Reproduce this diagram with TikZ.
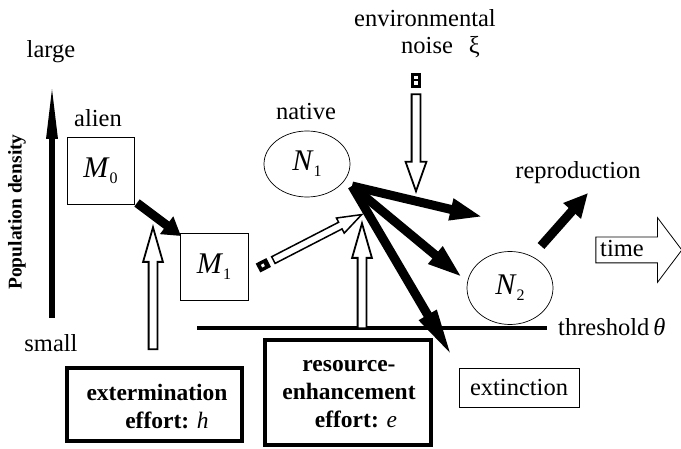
\documentclass[tikz,border=0pt]{standalone}
\usepackage{fontspec}
\setmainfont{Liberation Serif}
\usetikzlibrary{arrows.meta,shapes.geometric,shapes.arrows,calc}
\begin{document}
\begin{tikzpicture}[x=1pt,y=-1pt,
  txt/.style={font=\fontsize{24.5}{28}\selectfont, inner sep=0pt},
  btxt/.style={font=\fontsize{23.5}{28}\selectfont\bfseries, inner sep=0pt, align=center},
  sqbox/.style={draw, line width=0.8pt, minimum width=67pt, minimum height=67pt, inner sep=0pt, font=\fontsize{30}{30}\selectfont},
  oval/.style={ellipse, draw, line width=0.7pt, inner sep=0pt, font=\fontsize{30}{30}\selectfont},
  effbox/.style={draw, line width=4pt, inner sep=0pt},
  blackarr/.style n args={2}{draw, line width=9pt, -{Triangle[length=#1,width=#2]}},
  hollowarr/.style n args={2}{single arrow, draw, fill=white, line width=1.8pt, inner sep=0pt,
     minimum width=0pt, single arrow head extend=#1, single arrow tip angle=#2, single arrow head indent=0pt},
]
\useasboundingbox (0,0) rectangle (681,449);

% ---- vertical axis ----
\node[txt] (large) at (51,52) {large};
\node[txt] (small) at (51,343) {small};
\node[rotate=90, font=\fontsize{19.5}{22}\selectfont\bfseries, inner sep=0pt] (ylab) at (17,212) {Population density};
\coordinate (vbot) at (52,318);
\coordinate (vtop) at (52,77);
\draw[line width=6pt, -{Triangle[length=62pt,width=10pt]}] (vbot) -- (vtop);

% ---- nodes ----
\node[txt] (alienlbl) at (98,118) {alien};
\node[sqbox] (M0) at (100.5,170.5) {\textit{M}{\fontsize{16}{16}\selectfont\raisebox{-6pt}{0}}};
\node[sqbox, minimum width=68pt] (M1) at (214,266.5) {\textit{M}{\fontsize{16}{16}\selectfont\raisebox{-6pt}{1}}};
\node[txt] (nativelbl) at (306,112) {native};
\node[oval, minimum width=86pt, minimum height=66pt] (N1) at (307,164) {\textit{N}{\fontsize{16}{16}\selectfont\raisebox{-6pt}{1}}};
\node[oval, minimum width=86pt, minimum height=73pt] (N2) at (510,288) {\textit{N}{\fontsize{16}{16}\selectfont\raisebox{-6pt}{2}}};
\node[txt] (envlbl) at (425,18) {environmental};
\node[txt, anchor=west] (noiselbl) at (401,47) {noise\hspace{16pt}ξ};
\node[txt] (reprolbl) at (578,173) {reproduction};
\node[draw, line width=0.8pt, minimum width=120pt, minimum height=39pt, inner sep=0pt, txt] (ext) at (519,387.5) {extinction};

% ---- threshold ----
\coordinate (th0) at (197,328);
\coordinate (th1) at (547,328);
\draw[line width=4pt] (th0) -- (th1);
\node[txt, anchor=west] (thlbl) at (558,327) {threshold\,\textit{θ}};

% ---- effort boxes ----
\node[effbox, minimum width=175pt, minimum height=73pt] (exbox) at (154.5,404.5) {};
\node[btxt] (extxt) at (157,407) {extermination\\\hspace*{20pt}effort: \textnormal{\textit{h}}};
\node[effbox, minimum width=166pt, minimum height=105pt] (resbox) at (348,392.5) {};
\node[btxt] (restxt) at (349,394) {resource-\\enhancement\\\hspace*{14pt}effort: \textnormal{\textit{e}}};

% ---- black arrows ----
\coordinate (m0out) at (137,203);
\coordinate (m1in) at (181,236);
\draw[blackarr={18pt}{21pt}] (m0out) -- (m1in);

\coordinate (fan) at (352,186);
\coordinate (t1) at (483,217);
\coordinate (t2) at (463,278);
\coordinate (t3) at (453,358);
\draw[blackarr={33pt}{20pt}] (fan) -- (t1);
\draw[blackarr={36pt}{20pt}] (fan) -- (t2);
\draw[blackarr={50pt}{18pt}] (fan) -- (t3);

\coordinate (r0) at (541,246);
\coordinate (r1) at (588,193);
\draw[blackarr={24pt}{22pt}] (r0) -- (r1);

% ---- hollow arrows ----
\coordinate (e0) at (153,357); \coordinate (e1) at (153,235);
\path let \p1=($(e1)-(e0)$), \n1={atan2(\y1,\x1)}, \n2={veclen(\x1,\y1)} in
  node[hollowarr={5.5pt}{32}, minimum height=\n2, rotate=\n1] (exarr) at ($(e0)!0.5!(e1)$) {\rule{0pt}{7pt}};

\coordinate (s0) at (362,336); \coordinate (s1) at (362,231);
\path let \p1=($(s1)-(s0)$), \n1={atan2(\y1,\x1)}, \n2={veclen(\x1,\y1)} in
  node[hollowarr={5.5pt}{32}, minimum height=\n2, rotate=\n1] (resarr) at ($(s0)!0.5!(s1)$) {\rule{0pt}{7pt}};

% noise arrow with striped tail
\coordinate (nz0) at (416,73); \coordinate (nzb) at (416,88); \coordinate (nz1) at (416,185);
\draw[line width=10pt] (nz0) -- (nzb);
\draw[white, line width=4pt] ($(nz0)+(0,3)$) -- ($(nz0)+(0,6.5)$);
\draw[white, line width=4pt] ($(nz0)+(0,8.5)$) -- ($(nz0)+(0,12)$);
\path let \p1=($(nz1)-(nzb)$), \n1={atan2(\y1,\x1)}, \n2={veclen(\x1,\y1)} in
  node[hollowarr={6pt}{39}, minimum height=\n2, rotate=\n1] (noisearr) at ($(nzb)!0.5!(nz1)$) {\rule{0pt}{7pt}};

% M1 -> N1 arrow with striped tail
\coordinate (mn0) at (258,268); \coordinate (mn1) at (357,217);
\coordinate (mnb) at ($(mn0)!12pt!(mn1)$);
\draw[line width=10pt] (mn0) -- (mnb);
\draw[white, line width=3pt] ($(mn0)!4pt!(mn1)$) -- ($(mn0)!7pt!(mn1)$);
\path let \p1=($(mn1)-(mnb)$), \n1={atan2(\y1,\x1)}, \n2={veclen(\x1,\y1)} in
  node[hollowarr={4.75pt}{39}, line width=1.5pt, minimum height=\n2, rotate=\n1] (mnarr) at ($(mnb)!0.5!(mn1)$) {\rule{0pt}{6pt}};

% ---- time arrow ----
\node[single arrow, draw, line width=0.8pt, inner sep=0pt, minimum width=0pt, minimum height=86pt,
  single arrow head extend=19.5pt, single arrow tip angle=106, single arrow head indent=0pt] (timearr) at (634,250) {\rule{0pt}{25pt}};
\node[txt] (timelbl) at (622,249) {time};
\end{tikzpicture}
\end{document}
